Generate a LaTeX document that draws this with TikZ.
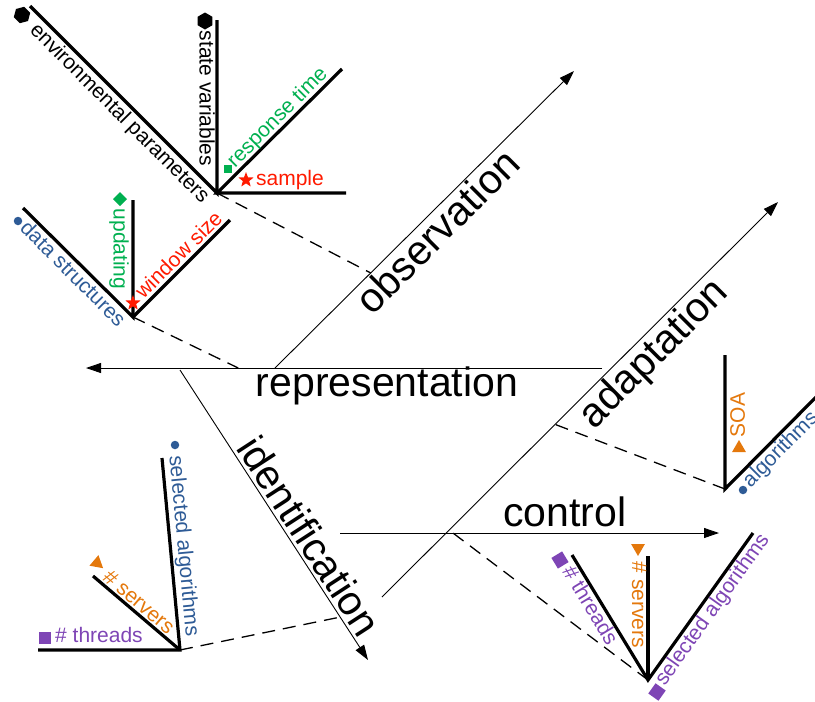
\documentclass[tikz,border=0pt]{standalone}
\usepackage{fontspec}
\setmainfont{Liberation Sans}
\usetikzlibrary{arrows.meta,shapes.geometric,calc}
\definecolor{cgreen}{HTML}{00B050}
\definecolor{cred}{HTML}{FF1A00}
\definecolor{cblue}{HTML}{2E5B96}
\definecolor{corange}{HTML}{E4780C}
\definecolor{cpurple}{HTML}{7E45B5}
\begin{document}
\begin{tikzpicture}[x=1pt,y=-1pt,
  mainarrow/.style={line width=0.9pt,-{Triangle[length=15pt,width=10pt]}},
  bone/.style={line width=3.2pt},
  link/.style={line width=1.3pt,dash pattern=on 13pt off 8pt},
  biglbl/.style={font=\fontsize{41}{41}\selectfont,inner sep=0pt,anchor=center,text height=29.4pt,text depth=8.6pt},
  lbl/.style={font=\fontsize{21}{21}\selectfont,inner sep=0pt,anchor=center,text height=15pt,text depth=4.4pt},
  mk/.style={inner sep=0pt,outer sep=0pt,draw=none},
  hexmk/.style={mk,regular polygon,regular polygon sides=6,minimum size=17pt,fill=black},
  starmk/.style={mk,star,star points=5,star point ratio=2.4,minimum size=16pt,fill=cred},
  sqmk/.style={mk,rectangle,minimum size=12.5pt},
  dotmk/.style={mk,circle,minimum size=8.5pt,fill=cblue},
  dmdmk/.style={mk,diamond,minimum size=14pt,fill=cgreen},
  trimk/.style={mk,regular polygon,regular polygon sides=3,shape border rotate=-90,minimum size=16pt,fill=corange},
]
\useasboundingbox (0,0) rectangle (815,702);

% main arrows
\coordinate (obsS) at (275,368); \coordinate (obsE) at (574,71);
\coordinate (repS) at (602,368); \coordinate (repE) at (86,368);
\coordinate (adS) at (382,597);  \coordinate (adE) at (778,202);
\coordinate (idS) at (180,370);  \coordinate (idE) at (368,660);
\coordinate (ctS) at (340,533);  \coordinate (ctE) at (719,533);
\draw[mainarrow] (obsS) -- (obsE);
\draw[mainarrow] (repS) -- (repE);
\draw[mainarrow] (adS) -- (adE);
\draw[mainarrow] (idS) -- (idE);
\draw[mainarrow] (ctS) -- (ctE);

\node[biglbl,rotate=45] (tobs) at (440,234) {observation};
\node[biglbl] (trep) at (387,386) {representation};
\node[biglbl,rotate=45] (tadp) at (655,355) {adaptation};
\node[biglbl,rotate=-57] (tidf) at (306,538) {identification};
\node[biglbl] (tctl) at (565,516) {control};

% group 1: observation
\coordinate (h1) at (217,193);
\coordinate (h1a) at (30,6); \coordinate (h1b) at (217,20);
\coordinate (h1c) at (342,69); \coordinate (h1d) at (346,193);
\coordinate (o1) at ($(obsS)!0.32!(obsE)$);
\draw[bone] (h1a) -- (h1) -- (h1b);
\draw[bone] (h1c) -- (h1) -- (h1d);
\draw[link] (h1) -- (o1);
\node[lbl,rotate=-45] (envp) at (119,114) {environmental parameters};
\node[hexmk,rotate=-45] (envm) at (22,15) {};
\node[lbl,rotate=-90] (statev) at (205,98.5) {state variables};
\node[hexmk,rotate=-90] (statem) at (205,21) {};
\node[lbl,rotate=45,text=cgreen] (resp) at (278,118) {response time};
\node[sqmk,fill=cgreen,minimum size=8.5pt] (respm) at (228,169) {};
\node[lbl,text=cred] (samp) at (290,180.5) {sample};
\node[starmk] (sampm) at (246,180) {};

% group 2: representation
\coordinate (h2) at (133,317);
\coordinate (h2a) at (23,208); \coordinate (h2b) at (133,200);
\coordinate (h2c) at (230,220);
\coordinate (o2) at ($(repS)!0.705!(repE)$);
\draw[bone] (h2a) -- (h2) -- (h2b);
\draw[bone] (h2) -- (h2c);
\draw[link] (h2) -- (o2);
\node[lbl,rotate=-45,text=cblue] (datas) at (72,275) {data structures};
\node[dotmk] (datam) at (18,221) {};
\node[lbl,rotate=-90,text=cgreen] (updt) at (119,249) {updating};
\node[dmdmk] (updm) at (120,199) {};
\node[lbl,rotate=45,text=cred] (wins) at (180,256) {window size};
\node[starmk] (winm) at (133,303) {};

% group 3: adaptation
\coordinate (h3) at (725,489);
\coordinate (h3a) at (725,355); \coordinate (h3b) at (822,391);
\coordinate (o3) at ($(adS)!0.437!(adE)$);
\draw[bone] (h3a) -- (h3) -- (h3b);
\draw[link] (h3) -- (o3);
\node[lbl,rotate=90,text=corange] (soa) at (739.5,415) {SOA};
\node[trimk,rotate=90] (soam) at (739,448) {};
\node[lbl,rotate=45,text=cblue] (algo) at (781,450) {algorithms};
\node[dotmk] (algom) at (743,490) {};

% group 4: identification
\coordinate (h4) at (180,650);
\coordinate (h4a) at (38,650); \coordinate (h4b) at (93,576);
\coordinate (h4c) at (162,458);
\coordinate (o4) at ($(idS)!0.852!(idE)$);
\draw[bone] (h4a) -- (h4) -- (h4c);
\draw[bone] (h4b) -- (h4);
\draw[link] (h4) -- (o4);
\node[lbl,text=cpurple] (thr1) at (99,637.5) {\# threads};
\node[sqmk,fill=cpurple] (thr1m) at (45,638) {};
\node[lbl,rotate=-40.4,text=corange] (srv1) at (138,603) {\# servers};
\node[trimk,rotate=-40.4] (srv1m) at (97,563) {};
\node[lbl,rotate=-84.7,text=cblue] (sel1) at (183,546) {selected algorithms};
\node[dotmk] (sel1m) at (175,445) {};

% group 5: control
\coordinate (h5) at (648,680);
\coordinate (h5a) at (572,555); \coordinate (h5b) at (648,556);
\coordinate (h5c) at (753,533);
\coordinate (o5) at ($(ctS)!0.298!(ctE)$);
\draw[bone] (h5a) -- (h5) -- (h5c);
\draw[bone] (h5b) -- (h5);
\draw[link] (h5) -- (o5);
\node[lbl,rotate=-58.7,text=cpurple] (thr2) at (589,606) {\# threads};
\node[sqmk,fill=cpurple,rotate=-58.7] (thr2m) at (560,560) {};
\node[lbl,rotate=-90,text=corange] (srv2) at (637.5,605) {\# servers};
\node[trimk,rotate=-90] (srv2m) at (638,548) {};
\node[lbl,rotate=54.5,text=cpurple] (sel2) at (713,610) {selected algorithms};
\node[sqmk,fill=cpurple,rotate=54.5] (sel2m) at (657,692) {};
\end{tikzpicture}
\end{document}
